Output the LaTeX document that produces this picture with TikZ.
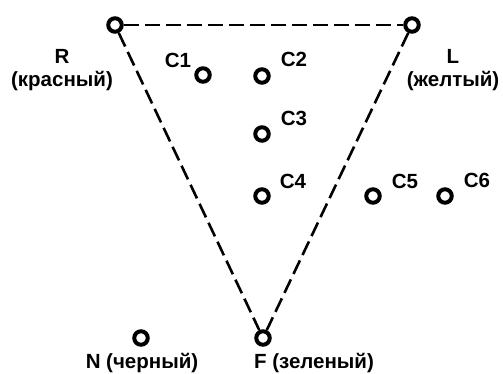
\documentclass[tikz,border=0pt]{standalone}
\usepackage{fontspec}
\setmainfont{Liberation Sans}
\begin{document}
\begin{tikzpicture}[x=1pt,y=-1pt,
  pt/.style={circle,draw=black,line width=4pt,minimum size=13.5pt,inner sep=0pt},
  edge/.style={dash pattern=on 15pt off 6pt,line width=2.6pt},
  lbl/.style={font=\bfseries\fontsize{20.5}{23}\selectfont,inner sep=0pt,align=center}]
\useasboundingbox (0,0) rectangle (503,374);
\node[pt] (R) at (115,25) {};
\node[pt] (L) at (412,25) {};
\node[pt] (F) at (263,338) {};
\node[pt] (N) at (141,338) {};
\node[pt] (C1) at (203,75) {};
\node[pt] (C2) at (262,76) {};
\node[pt] (C3) at (262,134) {};
\node[pt] (C4) at (262,196) {};
\node[pt] (C5) at (373,196) {};
\node[pt] (C6) at (445,196) {};
\draw[edge] (R) -- (L);
\draw[edge] (R) -- (F);
\draw[edge] (L) -- (F);
\node[lbl] (tR) at (62,70) {R\\(красный)};
\node[lbl] (tL) at (453,70) {L\\(желтый)};
\node[lbl] (t1) at (178,60) {C1};
\node[lbl] (t2) at (294,59) {C2};
\node[lbl] (t3) at (294,118) {C3};
\node[lbl] (t4) at (293,181) {C4};
\node[lbl] (t5) at (405,181) {C5};
\node[lbl] (t6) at (477,180) {C6};
\node[lbl] (tN) at (142,363) {N (черный)};
\node[lbl] (tF) at (314,363) {F (зеленый)};
\end{tikzpicture}
\end{document}
